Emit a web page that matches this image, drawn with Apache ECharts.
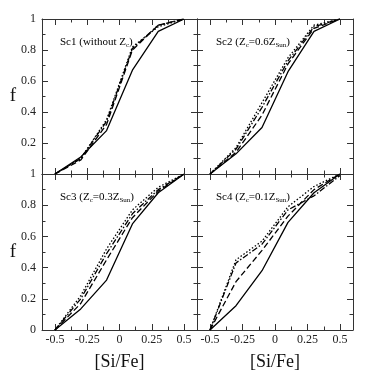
<!DOCTYPE html>
<html>
<head>
<meta charset="utf-8">
<script src="https://cdn.jsdelivr.net/npm/echarts@6/dist/echarts.min.js"></script>
<style>html,body{margin:0;padding:0;background:#fff}#c{width:374px;height:372px}</style>
</head>
<body>
<div id="c"></div>
<script>
// x positions of the cumulative-fraction points ([Si/Fe])
const xs = [-0.5, -0.3, -0.1, 0.1, 0.3, 0.5];

// Sc1 (without Zc)
const sc1Solid   = [0, 0.11, 0.28, 0.67, 0.92, 1.0];
const sc1Dashed  = [0, 0.09, 0.32, 0.80, 0.96, 1.0];
const sc1DashDot = [0, 0.10, 0.34, 0.81, 0.96, 1.0];
const sc1Dotted  = [0, 0.10, 0.35, 0.82, 0.95, 1.0];
// Sc2 (Zc = 0.6 Zsun)
const sc2Solid   = [0, 0.13, 0.30, 0.66, 0.92, 1.0];
const sc2Dashed  = [0, 0.14, 0.38, 0.71, 0.94, 1.0];
const sc2DashDot = [0, 0.16, 0.43, 0.73, 0.95, 1.0];
const sc2Dotted  = [0, 0.17, 0.46, 0.75, 0.96, 1.0];
// Sc3 (Zc = 0.3 Zsun)
const sc3Solid   = [0, 0.135, 0.32, 0.68, 0.88, 1.0];
const sc3Dashed  = [0, 0.17, 0.45, 0.72, 0.89, 1.0];
const sc3DashDot = [0, 0.20, 0.49, 0.745, 0.90, 1.0];
const sc3Dotted  = [0, 0.22, 0.52, 0.77, 0.915, 1.0];
// Sc4 (Zc = 0.1 Zsun)
const sc4Solid   = [0, 0.156, 0.38, 0.69, 0.88, 1.0];
const sc4Dashed  = [0, 0.31, 0.51, 0.73, 0.90, 1.0];
const sc4DashDot = [0, 0.43, 0.55, 0.77, 0.86, 0.99];
const sc4Dotted  = [0, 0.45, 0.57, 0.79, 0.92, 1.0];

const xMajorTicks = [-0.5, -0.25, 0, 0.25, 0.5];
const xMinorTicks = [-0.375, -0.125, 0.125, 0.375];
const xTitle = '[Si/Fe]';
const yTitle = 'f';

const panels = [
  {series: [sc1Solid, sc1Dashed, sc1DashDot, sc1Dotted]},
  {series: [sc2Solid, sc2Dashed, sc2DashDot, sc2Dotted]},
  {series: [sc3Solid, sc3Dashed, sc3DashDot, sc3Dotted]},
  {series: [sc4Solid, sc4Dashed, sc4DashDot, sc4Dotted]}
];

const FONT = "'Liberation Serif', 'DejaVu Serif', serif";
const AX = '#333';
const grids = [
  {left: 42, top: 19, width: 155, height: 155},
  {left: 197, top: 19, width: 156, height: 155},
  {left: 42, top: 174, width: 155, height: 156},
  {left: 197, top: 174, width: 156, height: 156}
];

const xAxes = [], yAxes = [], series = [];
const styles = [
  {type: 'solid'},
  {type: [6, 3]},
  {type: [6, 2, 1.5, 2]},
  {type: [1.5, 2]}
];

grids.forEach((g, i) => {
  const isBottom = i >= 2, isLeft = i % 2 === 0;
  ['bottom', 'top'].forEach(pos => {
    const main = {
      gridIndex: i, type: 'value', min: -0.6, max: 0.6, position: pos,
      axisLine: {show: true, onZero: false, lineStyle: {color: AX, width: 1}},
      axisTick: {show: true, inside: true, length: 6, customValues: xMajorTicks, lineStyle: {color: AX}},
      axisLabel: {show: false},
      splitLine: {show: false}
    };
    if (pos === 'bottom' && isBottom) {
      main.axisLabel = {show: true, customValues: xMajorTicks, margin: 4,
        fontFamily: FONT, fontSize: 12, color: '#222',
        formatter: v => String(v)};
      main.name = xTitle;
      main.nameLocation = 'middle';
      main.nameGap = 23;
      main.nameTextStyle = {fontFamily: FONT, fontSize: 18, color: '#111'};
    }
    xAxes.push(main);
    xAxes.push({
      gridIndex: i, type: 'value', min: -0.6, max: 0.6, position: pos,
      axisLine: {show: false, onZero: false},
      axisTick: {show: true, inside: true, length: 3.5, customValues: xMinorTicks, lineStyle: {color: AX}},
      axisLabel: {show: false}, splitLine: {show: false}
    });
  });
  ['left', 'right'].forEach(pos => {
    const ax = {
      gridIndex: i, type: 'value', min: 0, max: 1, interval: 0.2, position: pos,
      axisLine: {show: true, onZero: false, lineStyle: {color: AX, width: 1}},
      axisTick: {show: true, inside: true, length: 6, lineStyle: {color: AX}},
      minorTick: {show: true, splitNumber: 2, length: 3.5, lineStyle: {color: AX}},
      axisLabel: {show: false},
      splitLine: {show: false}, minorSplitLine: {show: false}
    };
    if (pos === 'left' && isLeft) {
      ax.axisLabel = {show: true, margin: 6, fontFamily: FONT, fontSize: 12, color: '#222',
        formatter: v => (!isBottom && v === 0) ? '' : String(+v.toFixed(2))};
      ax.name = yTitle;
      ax.nameLocation = 'middle';
      ax.nameRotate = 0;
      ax.nameGap = 24;
      ax.nameTextStyle = {fontFamily: FONT, fontSize: 19, color: '#111'};
    }
    yAxes.push(ax);
  });
  panels[i].series.forEach((vals, k) => {
    series.push({
      type: 'line', xAxisIndex: i * 4, yAxisIndex: i * 2,
      data: xs.map((x, j) => [x, vals[j]]),
      symbol: 'none', smooth: false, clip: true, animation: false,
      lineStyle: Object.assign({color: '#000', width: 1.3}, styles[k]),
      z: 5 - k
    });
  });
});

const rich = {
  a: {fontFamily: FONT, fontSize: 11, color: '#222'},
  s: {fontFamily: FONT, fontSize: 7, color: '#222', padding: [6, 0, 0, 0]}
};
const labels = [
  {x: 60, y: 37, text: '{a|Sc1 (without Z}{s|c}{a|)}'},
  {x: 216, y: 37, text: '{a|Sc2 (Z}{s|c}{a|=0.6Z}{s|Sun}{a|)}'},
  {x: 60, y: 192, text: '{a|Sc3 (Z}{s|c}{a|=0.3Z}{s|Sun}{a|)}'},
  {x: 216, y: 192, text: '{a|Sc4 (Z}{s|c}{a|=0.1Z}{s|Sun}{a|)}'}
];

const chart = echarts.init(document.getElementById('c'), null, {renderer: 'canvas'});
chart.setOption({
  animation: false,
  backgroundColor: '#fff',
  grid: grids,
  xAxis: xAxes,
  yAxis: yAxes,
  series: series,
  graphic: labels.map(l => ({
    type: 'text', left: l.x, top: l.y, z: 10,
    style: {text: l.text, rich: rich}
  }))
});
</script>
</body>
</html>
